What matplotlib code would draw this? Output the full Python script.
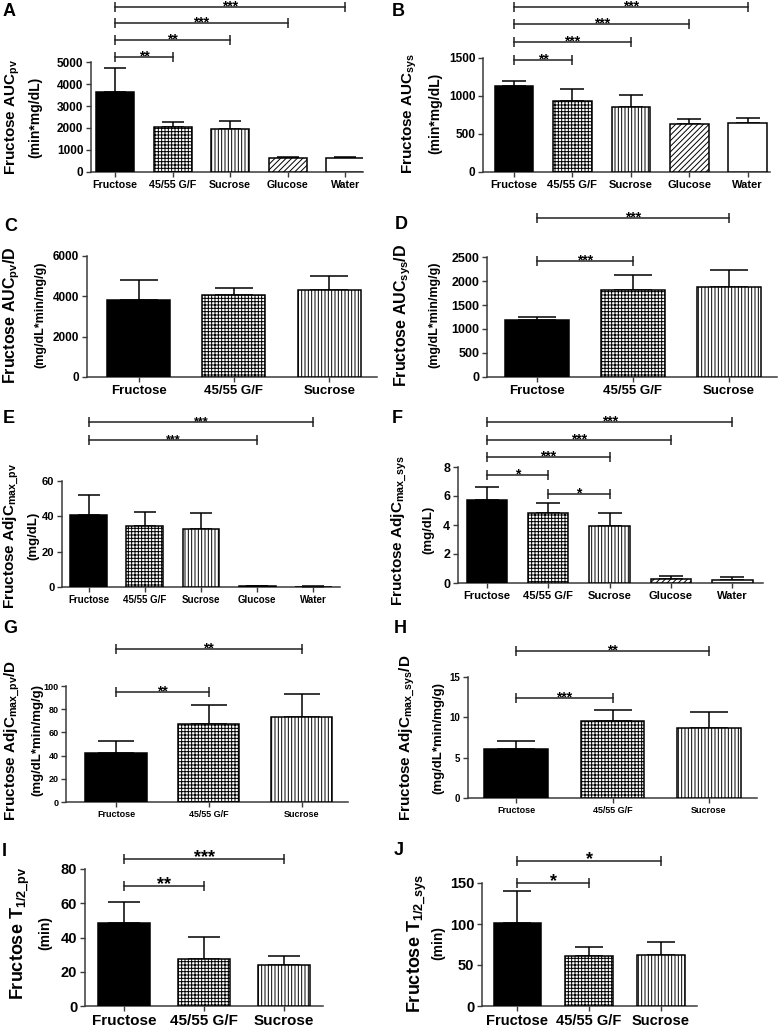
import numpy as np
import matplotlib
matplotlib.use("Agg")
import matplotlib.pyplot as plt

plt.rcParams['font.family'] = ['Liberation Sans', 'DejaVu Sans']
plt.rcParams['font.weight'] = 'bold'
plt.rcParams['mathtext.fontset'] = 'custom'
plt.rcParams['mathtext.rm'] = 'Liberation Sans:bold'
plt.rcParams['mathtext.it'] = 'Liberation Sans:bold'
plt.rcParams['mathtext.bf'] = 'Liberation Sans:bold'
plt.rcParams['hatch.linewidth'] = 0.7

W, H = 780, 1030

# ---- data ----
groups5 = ["Fructose", "45/55 G/F", "Sucrose", "Glucose", "Water"]
groups3 = ["Fructose", "45/55 G/F", "Sucrose"]

auc_pv = [3650, 2050, 1950, 620, 650]
auc_pv_err = [1100, 220, 350, 80, 50]
auc_sys = [1130, 930, 850, 630, 650]
auc_sys_err = [70, 160, 160, 70, 55]
auc_pv_d = [3800, 4050, 4300]
auc_pv_d_err = [1000, 350, 700]
auc_sys_d = [1190, 1820, 1880]
auc_sys_d_err = [70, 300, 340]
cmax_pv = [41, 34.5, 33, 0.3, 0.2]
cmax_pv_err = [11, 8, 9, 0.3, 0.3]
cmax_sys = [5.75, 4.85, 3.9, 0.25, 0.2]
cmax_sys_err = [0.9, 0.7, 0.95, 0.2, 0.2]
cmax_pv_d = [42.5, 67.5, 73]
cmax_pv_d_err = [10, 16, 20.5]
cmax_sys_d = [6.1, 9.5, 8.65]
cmax_sys_d_err = [1.0, 1.35, 2.05]
thalf_pv = [48.5, 27.5, 24]
thalf_pv_err = [12.5, 13, 5]
thalf_sys = [101, 61, 62]
thalf_sys_err = [39, 11, 16]

# significance brackets: (from, to, height, label)
sig_a = [(0, 1, 5230, "**"), (0, 2, 6000, "**"), (0, 3, 6770, "***"), (0, 4, 7500, "***")]
sig_b = [(0, 1, 1475, "**"), (0, 2, 1710, "***"), (0, 3, 1945, "***"), (0, 4, 2175, "***")]
sig_c = []
sig_d = [(0, 1, 2417, "***"), (0, 2, 3312, "***")]
sig_e = [(0, 3, 83.2, "***"), (0, 4, 93.4, "***")]
sig_f = [(0, 1, 7.45, "*"), (1, 2, 6.14, "*"), (0, 2, 8.69, "***"),
         (0, 3, 9.86, "***"), (0, 4, 11.1, "***")]
sig_g = [(0, 1, 94.8, "**"), (0, 2, 131.9, "**")]
sig_h = [(0, 1, 12.4, "***"), (0, 2, 18.2, "**")]
sig_i = [(0, 1, 70.2, "**"), (0, 2, 85.8, "***")]
sig_j = [(0, 1, 150, "*"), (0, 2, 177, "*")]

fills = [dict(facecolor='black', hatch=None),
         dict(facecolor='white', hatch='+++++'),
         dict(facecolor='white', hatch='|||||'),
         dict(facecolor='white', hatch='//////'),
         dict(facecolor='white', hatch=None)]

fig = plt.figure(figsize=(W / 100, H / 100), dpi=100)


def panel(box, xlim, groups, means, errs, ymax, ystep, sigs, letter, letter_xy,
          lab1, lab2, lab_x, lab_y, fs):
    L, T, R, B = box
    ax = fig.add_axes([L / W, 1 - B / H, (R - L) / W, (B - T) / H])
    x = np.arange(len(groups))
    bw = 0.66
    for i in x:
        ax.bar(i, means[i], width=bw, edgecolor='black', linewidth=1.1,
               zorder=3, **fills[i])
    bw_px = (R - L) / (xlim[1] - xlim[0]) * bw
    ax.errorbar(x, means, yerr=[np.zeros(len(x)), errs], fmt='none',
                ecolor='black', elinewidth=1.1, capthick=1.1,
                capsize=0.3 * bw_px * 0.72, zorder=2)
    ax.set_xlim(*xlim)
    ax.set_ylim(0, ymax)
    ax.set_yticks(np.arange(0, ymax + ystep / 2, ystep))
    ax.set_xticks(x)
    ax.set_xticklabels(groups, fontsize=fs[0], fontweight='bold')
    for t in ax.get_yticklabels():
        t.set_fontsize(fs[1])
        t.set_fontweight('bold')
    for s in ['top', 'right']:
        ax.spines[s].set_visible(False)
    for s in ['left', 'bottom']:
        ax.spines[s].set_linewidth(1.1)
        ax.spines[s].set_color('#3a3a3a')
    ax.tick_params(length=3.5, width=1.0, color='#3a3a3a', pad=2)
    for i, j, h, lab in sigs:
        ax.plot([i, j], [h, h], color='#222222', lw=1.1, marker='|',
                markersize=7, mew=1.1, clip_on=False, zorder=4)
        ax.annotate(lab, ((i + j) / 2, h), xytext=(0, -2.5),
                    textcoords='offset points', ha='center', va='baseline',
                    fontsize=fs[4], fontweight='bold', annotation_clip=False)
    fig.text(letter_xy[0] / W, 1 - letter_xy[1] / H, letter, fontsize=13,
             fontweight='bold', ha='left', va='top')
    fig.text(lab_x[0] / W, 1 - lab_y / H, lab1, rotation=90, fontsize=fs[2],
             fontweight='bold', ha='center', va='center')
    fig.text(lab_x[1] / W, 1 - lab_y / H, lab2, rotation=90, fontsize=fs[3],
             fontweight='bold', ha='center', va='center')
    return ax


panel((91, 62, 363, 172), (-0.42, 4.31), groups5, auc_pv, auc_pv_err, 5000, 1000,
      sig_a, "A", (3, 3), r"Fructose AUC$_{pv}$", "(min*mg/dL)", (13, 35), 117,
      (7.7, 8.5, 11, 10, 10))
panel((483, 58, 770, 172), (-0.53, 4.38), groups5, auc_sys, auc_sys_err, 1500, 500,
      sig_b, "B", (392, 3), r"Fructose AUC$_{sys}$", "(min*mg/dL)", (410, 435), 113,
      (8, 8.5, 11, 10, 10))
panel((87, 256, 377, 377), (-0.54, 2.5), groups3, auc_pv_d, auc_pv_d_err, 6000, 2000,
      sig_c, "C", (4, 218), r"Fructose AUC$_{pv}$/D", "(mg/dL*min/mg/g)", (12, 40), 315,
      (9.5, 8.5, 11.5, 9, 10))
panel((487, 257, 777, 377), (-0.52, 2.5), groups3, auc_sys_d, auc_sys_d_err, 2500, 500,
      sig_d, "D", (395, 216), r"Fructose AUC$_{sys}$/D", "(mg/dL*min/mg/g)", (403, 434), 315,
      (9.5, 9, 11.5, 9, 10))
panel((62, 481, 340, 587), (-0.48, 4.48), groups5, cmax_pv, cmax_pv_err, 60, 20,
      sig_e, "E", (3, 410), r"Fructose AdjC$_{max\_pv}$", "(mg/dL)", (11, 33), 536,
      (7, 8, 11, 9.5, 9))
panel((458, 467, 763, 583), (-0.47, 4.5), groups5, cmax_sys, cmax_sys_err, 8, 2,
      sig_f, "F", (392, 410), r"Fructose AdjC$_{max\_sys}$", "(mg/dL)", (399, 428), 530,
      (8, 9, 11, 9.5, 10))
panel((66, 686, 348, 802), (-0.54, 2.5), groups3, cmax_pv_d, cmax_pv_d_err, 100, 20,
      sig_g, "G", (3, 620), r"Fructose AdjC$_{max\_pv}$/D", "(mg/dL*min/mg/g)", (12, 37), 740,
      (6.5, 6.5, 11, 9.5, 10))
panel((468, 677, 757, 798), (-0.5, 2.5), groups3, cmax_sys_d, cmax_sys_d_err, 15, 5,
      sig_h, "H", (394, 620), r"Fructose AdjC$_{max\_sys}$/D", "(mg/dL*min/mg/g)", (407, 438), 738,
      (6.5, 7, 11, 9.5, 10))
panel((85, 869, 323, 1006), (-0.49, 2.49), groups3, thalf_pv, thalf_pv_err, 80, 20,
      sig_i, "I", (2, 843), r"Fructose T$_{1/2\_pv}$", "(min)", (20, 45), 933,
      (11, 10.5, 13, 10, 13))
panel((482, 883, 697, 1006), (-0.49, 2.5), groups3, thalf_sys, thalf_sys_err, 150, 50,
      sig_j, "J", (394, 842), r"Fructose T$_{1/2\_sys}$", "(min)", (417, 438), 943,
      (10.5, 10.5, 13, 10, 13))

fig.savefig("out.png", dpi=100)
